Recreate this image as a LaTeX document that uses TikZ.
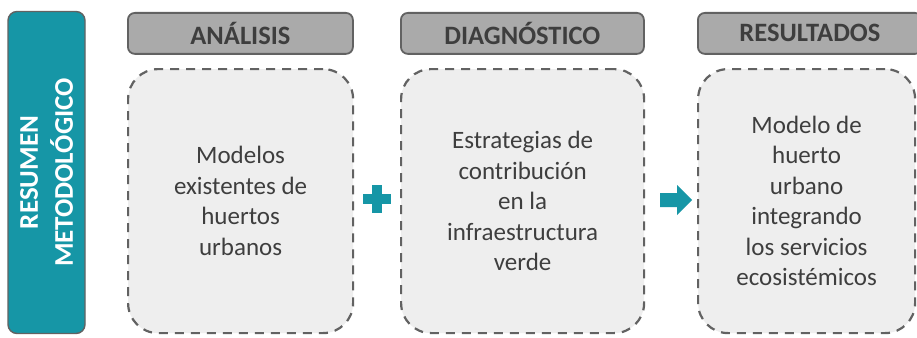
\documentclass[tikz,border=0pt]{standalone}
\usepackage{fontspec}
\setmainfont{Carlito}
\usepackage{tikz}
\usetikzlibrary{positioning}
\definecolor{resteal}{RGB}{22,150,166}
\definecolor{hdrgray}{RGB}{170,170,170}
\definecolor{hdrline}{RGB}{98,98,98}
\definecolor{boxgray}{RGB}{238,238,238}
\definecolor{txtgray}{RGB}{62,62,62}

\begin{document}
\begin{tikzpicture}[x=1pt,y=-1pt,font=\fontsize{25}{30.5}\selectfont,
    header/.style={draw=hdrline,fill=hdrgray,line width=1.8pt,rounded corners=7pt,
      text=txtgray,font=\fontsize{26.5}{30}\selectfont\bfseries,anchor=north west,
      inner sep=0pt,minimum height=41pt},
    dashbox/.style={draw=hdrline,fill=boxgray,line width=2.2pt,dash pattern=on 9pt off 7pt,
      rounded corners=30pt,text=txtgray,align=center,anchor=north west,
      inner sep=0pt,minimum height=264pt}]
        % Canvas
        \useasboundingbox[fill=white] (0,0) rectangle (917,337);
        % Side label
        \node[rotate=90,draw=hdrline,fill=resteal,line width=1.4pt,rounded corners=9pt,
          minimum width=322pt,minimum height=77pt,text=white,align=center,
          font=\fontsize{27}{35}\selectfont\bfseries] (side) at (46.5,172.5)
          {RESUMEN\\METODOLÓGICO};
        % Columns: header + dashed box
        \foreach \name/\xl/\bw/\hw/\hd/\txt in {
            ana/127/225/225/ANÁLISIS/{Modelos\\existentes de\\huertos\\urbanos},
            dia/400/243/243/DIAGNÓSTICO/{Estrategias de\\contribución\\en la\\infraestructura\\verde},
            res/697/217/224/RESULTADOS/{Modelo de\\huerto\\urbano\\integrando\\los servicios\\ecosistémicos}}{
          \node[header,minimum width=\hw pt] (hdr\name) at (\xl,12) {\hd};
          \node[dashbox,minimum width=\bw pt] (box\name) at (\xl,68) {\txt};
        }
        % Plus sign
        \coordinate (plus) at (377,199);
        \fill[resteal] ([xshift=-14pt,yshift=-5pt]plus) rectangle ([xshift=14pt,yshift=5pt]plus);
        \fill[resteal] ([xshift=-5pt,yshift=-14pt]plus) rectangle ([xshift=5pt,yshift=14pt]plus);
        % Arrow
        \coordinate (arr) at (660,200);
        \fill[resteal] (arr) ++(0,-7) -- ++(17,0) -- ++(0,-8) -- ++(15,15)
          -- ++(-15,15) -- ++(0,-8) -- ++(-17,0) -- cycle;
      \end{tikzpicture}
\end{document}
